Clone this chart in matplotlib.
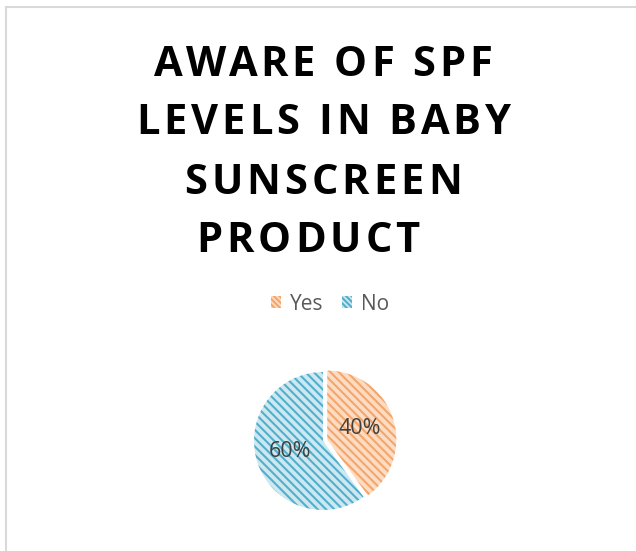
import matplotlib
matplotlib.use("Agg")
import matplotlib.pyplot as plt
from matplotlib.patches import Rectangle
from matplotlib.lines import Line2D
from matplotlib.font_manager import FontProperties

# data
labels = ["Yes", "No"]
shares = [40, 60]
face_colors = ["#FCDCC4", "#CDE8F1"]
hatch_colors = ["#F4A66A", "#52AFCB"]
title_lines = ["AWARE OF SPF", "LEVELS IN BABY", "SUNSCREEN", "PRODUCT  "]

plt.rcParams["hatch.linewidth"] = 1.5

fig = plt.figure(figsize=(6.36, 5.51), dpi=100)
W, H = 636, 551
renderer = fig.canvas.get_renderer()

# chart border (only left and top visible)
fig.add_artist(Line2D([6 / W, 6 / W], [0, 1 - 7 / H], color="#D9D9D9", lw=1.5))
fig.add_artist(Line2D([6 / W, 1], [1 - 7 / H, 1 - 7 / H], color="#D9D9D9", lw=1.5))

# title with wide letter spacing
title_font = FontProperties(family="Open Sans", weight="bold", size=30)
spacing = 4  # px between letters


def text_w(s):
    w, _, _ = renderer.get_text_width_height_descent(s + "|", title_font, ismath=False)
    w0, _, _ = renderer.get_text_width_height_descent("|", title_font, ismath=False)
    return w - w0


ys = [60, 118, 178, 236]
for line, y in zip(title_lines, ys):
    total = text_w(line) + spacing * (len(line) - 1)
    x0 = 323 - total / 2
    for i, ch in enumerate(line):
        if ch == " ":
            continue
        x = x0 + text_w(line[:i]) + spacing * i
        fig.text(x / W, 1 - y / H, ch, ha="left", va="center_baseline",
                 fontproperties=title_font, color="black")

# pie
cx, cy, r = 323, 441, 69
box = 90
ax = fig.add_axes([(cx - box) / W, 1 - (cy + box) / H, 2 * box / W, 2 * box / H])
wedges, texts, autotexts = ax.pie(
    shares, radius=r / box, startangle=90, counterclock=False,
    explode=[0.05, 0], colors=face_colors, autopct="%d%%", pctdistance=0.5,
    wedgeprops=dict(linewidth=0),
    textprops=dict(fontsize=15.5, color="#404040", family="Open Sans"))
for w, hc in zip(wedges, hatch_colors):
    w.set_hatch("\\" * 4)
    w.set_edgecolor(hc)
ax.set_xlim(-1, 1)
ax.set_ylim(-1, 1)
ax.set_aspect("equal")
ax.axis("off")

# legend
handles = [Rectangle((0, 0), 1, 1, facecolor=fc, edgecolor=hc, hatch="\\" * 6, lw=0)
           for fc, hc in zip(face_colors, hatch_colors)]
fig.legend(handles, labels, loc="center", bbox_to_anchor=(330 / W, 1 - 304 / H),
           ncol=2, frameon=False, handlelength=0.5, handleheight=0.5,
           handletextpad=0.4, columnspacing=0.9,
           prop=dict(size=15, family="Open Sans"), labelcolor="#595959")

fig.savefig("out.png", dpi=100)
